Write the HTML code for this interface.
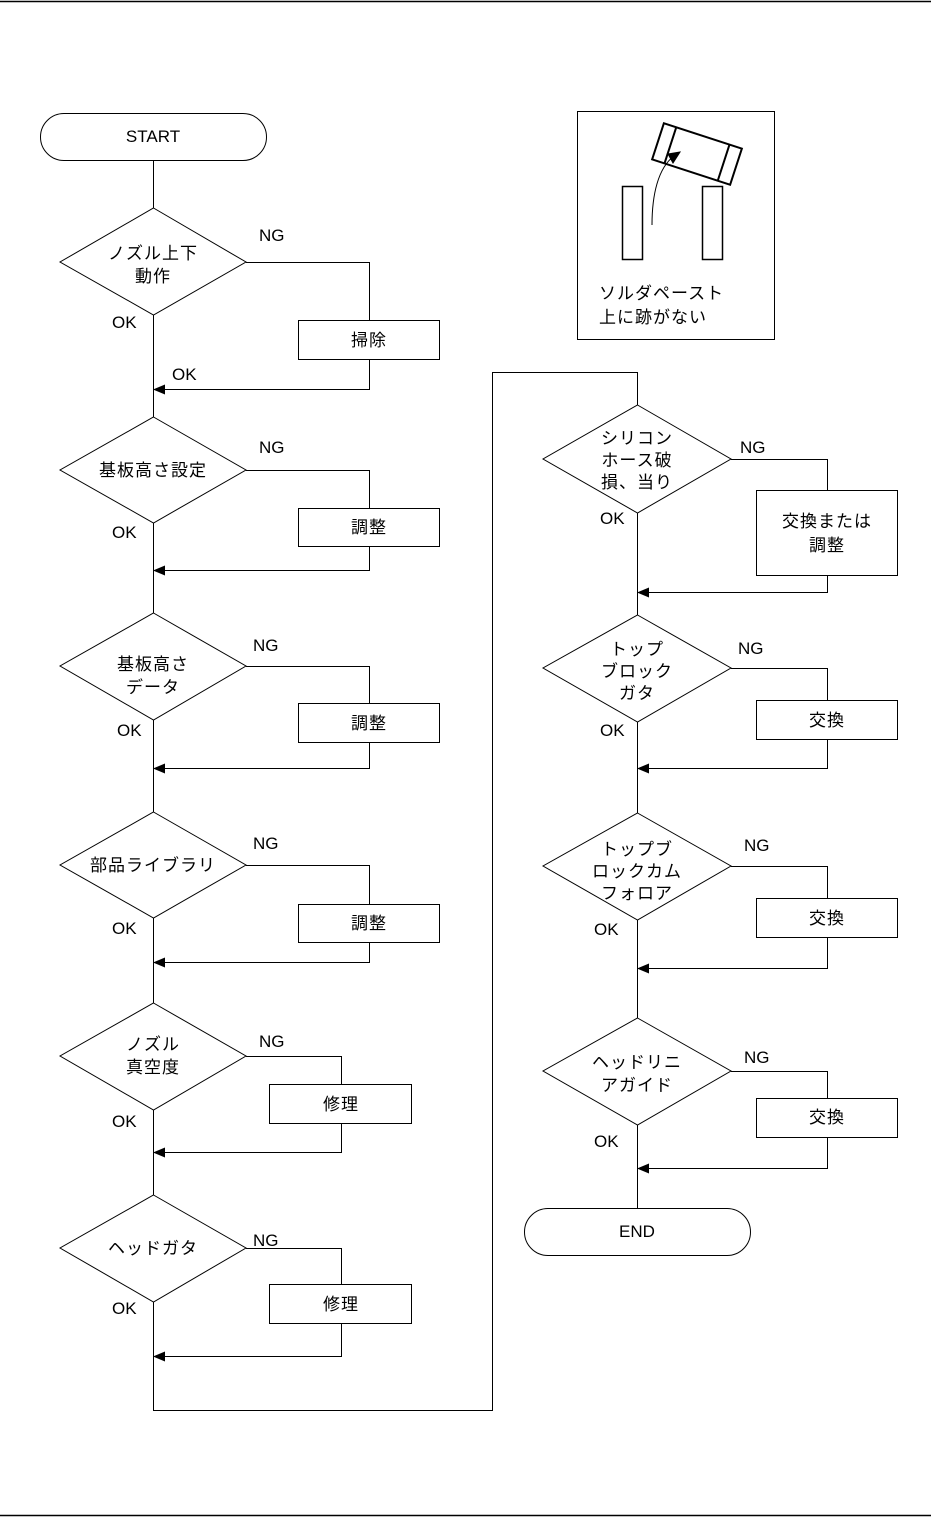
<!DOCTYPE html>
<html><head><meta charset="utf-8"><style>
body{margin:0;background:#fff}
svg text{font-family:"Liberation Sans Narrow","Liberation Sans","Noto Sans CJK JP",sans-serif;font-size:17px;fill:#000}
.j{font-family:"Liberation Sans","Noto Sans CJK JP",sans-serif;font-size:17px;letter-spacing:1px}
</style></head><body>
<svg width="931" height="1518" viewBox="0 0 931 1518" xmlns="http://www.w3.org/2000/svg">
<defs><marker id="a" markerWidth="12" markerHeight="10" refX="11" refY="5" orient="auto" markerUnits="userSpaceOnUse"><path d="M0,0 L12,5 L0,10 Z" fill="#000"/></marker></defs>
<g stroke="#000" stroke-width="1" fill="none">
<line x1="0" y1="1.5" x2="931" y2="1.5" stroke-width="1.5"/>
<line x1="0" y1="1515.5" x2="931" y2="1515.5" stroke-width="1.5"/>
<rect x="40.5" y="113.5" width="226" height="47" rx="23.5"/>
<rect x="524.5" y="1208.5" width="226" height="47" rx="23.5"/>
<line x1="153.5" y1="160" x2="153.5" y2="208"/>
<!-- left column diamonds -->
<polygon points="153.5,208 246,262 153.5,315 60,262"/>
<polygon points="153.5,417 246,470 153.5,523 60,470"/>
<polygon points="153.5,613 246,666 153.5,720 60,666"/>
<polygon points="153.5,812 246,865 153.5,918 60,865"/>
<polygon points="153.5,1003 246,1056 153.5,1110 60,1056"/>
<polygon points="153.5,1195 246,1248 153.5,1302 60,1248"/>
<line x1="153.5" y1="315" x2="153.5" y2="417"/>
<line x1="153.5" y1="523" x2="153.5" y2="613"/>
<line x1="153.5" y1="720" x2="153.5" y2="812"/>
<line x1="153.5" y1="918" x2="153.5" y2="1003"/>
<line x1="153.5" y1="1110" x2="153.5" y2="1195"/>
<polyline points="153.5,1302 153.5,1410.5 492.5,1410.5 492.5,372.5 637.5,372.5 637.5,405"/>
<!-- NG branches left -->
<polyline points="246,262.5 369.5,262.5 369.5,320"/><rect x="298.5" y="320.5" width="141" height="39"/><polyline points="369.5,359 369.5,389.5 154,389.5" marker-end="url(#a)"/>
<polyline points="246,470.5 369.5,470.5 369.5,508"/><rect x="298.5" y="508.5" width="141" height="38"/><polyline points="369.5,546 369.5,570.5 154,570.5" marker-end="url(#a)"/>
<polyline points="246,666.5 369.5,666.5 369.5,703"/><rect x="298.5" y="703.5" width="141" height="39"/><polyline points="369.5,742 369.5,768.5 154,768.5" marker-end="url(#a)"/>
<polyline points="246,865.5 369.5,865.5 369.5,904"/><rect x="298.5" y="904.5" width="141" height="38"/><polyline points="369.5,942 369.5,962.5 154,962.5" marker-end="url(#a)"/>
<polyline points="246,1056.5 341.5,1056.5 341.5,1084"/><rect x="269.5" y="1084.5" width="142" height="39"/><polyline points="341.5,1123 341.5,1152.5 154,1152.5" marker-end="url(#a)"/>
<polyline points="246,1248.5 341.5,1248.5 341.5,1284"/><rect x="269.5" y="1284.5" width="142" height="39"/><polyline points="341.5,1323 341.5,1356.5 154,1356.5" marker-end="url(#a)"/>
<!-- right column -->
<polygon points="637.5,405 731,459 637.5,513 543,459"/>
<polygon points="637.5,615 731,668 637.5,722 543,668"/>
<polygon points="637.5,813 731,866 637.5,920 543,866"/>
<polygon points="637.5,1018 731,1071 637.5,1125 543,1071"/>
<line x1="637.5" y1="513" x2="637.5" y2="615"/>
<line x1="637.5" y1="722" x2="637.5" y2="813"/>
<line x1="637.5" y1="920" x2="637.5" y2="1018"/>
<line x1="637.5" y1="1125" x2="637.5" y2="1208"/>
<polyline points="731,459.5 827.5,459.5 827.5,490"/><rect x="756.5" y="490.5" width="141" height="85"/><polyline points="827.5,575 827.5,592.5 638,592.5" marker-end="url(#a)"/>
<polyline points="731,668.5 827.5,668.5 827.5,700"/><rect x="756.5" y="700.5" width="141" height="39"/><polyline points="827.5,739 827.5,768.5 638,768.5" marker-end="url(#a)"/>
<polyline points="731,866.5 827.5,866.5 827.5,898"/><rect x="756.5" y="898.5" width="141" height="39"/><polyline points="827.5,937 827.5,968.5 638,968.5" marker-end="url(#a)"/>
<polyline points="731,1071.5 827.5,1071.5 827.5,1098"/><rect x="756.5" y="1098.5" width="141" height="39"/><polyline points="827.5,1137 827.5,1168.5 638,1168.5" marker-end="url(#a)"/>
<!-- inset -->
<rect x="577.5" y="111.5" width="197" height="228"/>
<rect x="622.5" y="186.5" width="20" height="73" stroke-width="1.5"/>
<rect x="702.5" y="186.5" width="20" height="73" stroke-width="1.5"/>
<g transform="rotate(18 697 154)" stroke-width="2"><rect x="656" y="135" width="82" height="38"/><line x1="669" y1="135" x2="669" y2="173"/><line x1="725" y1="135" x2="725" y2="173"/></g>
<path d="M652,225 C652,195 658,168 674,156" stroke-width="1"/>
<path d="M680,152 L668,154 L673,163 Z" fill="#000"/>
</g>
<g text-anchor="middle">
<text x="153" y="142">START</text>
<text x="637" y="1237">END</text>
<text class="j" x="153" y="259">ノズル上下</text><text class="j" x="153" y="282">動作</text>
<text class="j" x="153" y="476">基板高さ設定</text>
<text class="j" x="153" y="670">基板高さ</text><text class="j" x="153" y="693">データ</text>
<text class="j" x="153" y="871">部品ライブラリ</text>
<text class="j" x="153" y="1050">ノズル</text><text class="j" x="153" y="1073">真空度</text>
<text class="j" x="153" y="1254">ヘッドガタ</text>
<text class="j" x="369" y="346">掃除</text>
<text class="j" x="369" y="533">調整</text>
<text class="j" x="369" y="729">調整</text>
<text class="j" x="369" y="929">調整</text>
<text class="j" x="341" y="1110">修理</text>
<text class="j" x="341" y="1310">修理</text>
<text class="j" x="637" y="444">シリコン</text><text class="j" x="637" y="466">ホース破</text><text class="j" x="637" y="488">損、当り</text>
<text class="j" x="637" y="655">トップ</text><text class="j" x="637" y="677">ブロック</text><text class="j" x="637" y="699">ガタ</text>
<text class="j" x="637" y="855">トップブ</text><text class="j" x="637" y="877">ロックカム</text><text class="j" x="637" y="899">フォロア</text>
<text class="j" x="637" y="1068">ヘッドリニ</text><text class="j" x="637" y="1091">アガイド</text>
<text class="j" x="827" y="527">交換または</text><text class="j" x="827" y="551">調整</text>
<text class="j" x="827" y="726">交換</text>
<text class="j" x="827" y="924">交換</text>
<text class="j" x="827" y="1123">交換</text>
</g>
<g>
<text x="259" y="241">NG</text><text x="112" y="328">OK</text><text x="172" y="380">OK</text>
<text x="259" y="453">NG</text><text x="112" y="538">OK</text>
<text x="253" y="651">NG</text><text x="117" y="736">OK</text>
<text x="253" y="849">NG</text><text x="112" y="934">OK</text>
<text x="259" y="1047">NG</text><text x="112" y="1127">OK</text>
<text x="253" y="1246">NG</text><text x="112" y="1314">OK</text>
<text x="740" y="453">NG</text><text x="600" y="524">OK</text>
<text x="738" y="654">NG</text><text x="600" y="736">OK</text>
<text x="744" y="851">NG</text><text x="594" y="935">OK</text>
<text x="744" y="1063">NG</text><text x="594" y="1147">OK</text>
<text class="j" x="599" y="299">ソルダペースト</text>
<text class="j" x="599" y="323">上に跡がない</text>
</g>
</svg>
</body></html>
